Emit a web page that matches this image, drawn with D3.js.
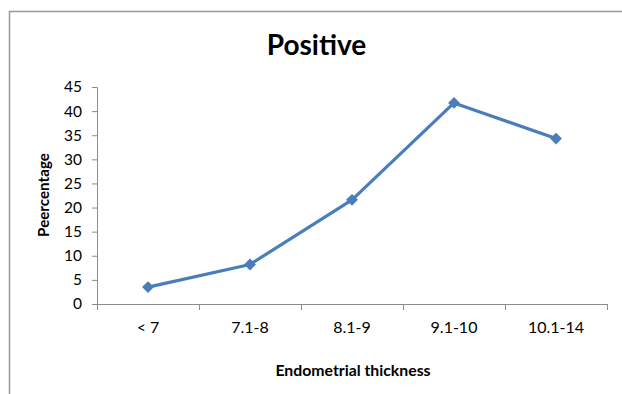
<!DOCTYPE html>
<html><head><meta charset="utf-8">
<script src="https://cdn.jsdelivr.net/npm/d3@7"></script>
<style>body{margin:0;background:#fff}svg{display:block}</style>
</head><body>
<script>
const categories = ["< 7", "7.1-8", "8.1-9", "9.1-10", "10.1-14"];
const values = [3.5, 8.2, 21.6, 41.7, 34.3];
const yTicks = [0, 5, 10, 15, 20, 25, 30, 35, 40, 45];
const titleText = "Positive";
const xTitle = "Endometrial thickness";
const yTitle = "Peercentage";

const W = 622, H = 394;
const svg = d3.select("body").append("svg").attr("width", W).attr("height", H);
const font = "Lato, 'Open Sans', sans-serif";

// outer chart border (cropped at right/bottom)
svg.append("path").attr("d", `M9.5,${H} V11.5 H${W}`).attr("fill", "none")
  .attr("stroke", "#999").attr("stroke-width", 1.5);

const L = 97, R = 607, T = 87, B = 304;
const x = d3.scaleBand().domain(categories).range([L, R]).padding(0);
const y = d3.scaleLinear().domain([0, 45]).range([B, T]);

// y axis
const yAx = svg.append("g").attr("transform", `translate(${L},0)`)
  .call(d3.axisLeft(y).tickValues(yTicks).tickSize(5).tickPadding(10));
yAx.select(".domain").attr("stroke", "#8c8c8c").attr("d", `M-5,${T}.5H0.5V${B}.5`);
yAx.selectAll(".tick line").attr("stroke", "#8c8c8c");
yAx.selectAll("text").attr("font-family", font).attr("font-size", 15.5).attr("fill", "#000");

// x axis
const xAx = svg.append("g").attr("transform", `translate(0,${B})`)
  .call(d3.axisBottom(x).tickSize(0));
xAx.select(".domain").attr("stroke", "#8c8c8c").attr("d", `M${L}.5,0.5H${R}.5`);
xAx.selectAll("text").attr("font-family", font).attr("font-size", 16).attr("fill", "#000")
  .attr("dy", null).attr("y", 29);
const bounds = categories.map(c => x(c)).concat([R]);
xAx.selectAll(".bt").data(bounds).enter().append("line")
  .attr("x1", d => Math.round(d) + 0.5).attr("x2", d => Math.round(d) + 0.5)
  .attr("y1", 0).attr("y2", 6).attr("stroke", "#8c8c8c");

// line
const cx = c => x(c) + x.bandwidth() / 2;
svg.append("path").datum(values)
  .attr("d", d3.line().x((d, i) => cx(categories[i])).y(d => y(d)))
  .attr("fill", "none").attr("stroke", "#4a7ebb").attr("stroke-width", 3.2)
  .attr("stroke-linejoin", "round");

svg.selectAll(".mk").data(values).enter().append("path")
  .attr("transform", (d, i) => `translate(${cx(categories[i])},${y(d)})`)
  .attr("d", d3.symbol().type(d3.symbolDiamond2).size(90))
  .attr("fill", "#4a7ebb");

// titles
svg.append("text").attr("x", 316.5).attr("y", 55).attr("text-anchor", "middle")
  .attr("font-family", font).attr("font-weight", "bold").attr("font-size", 28)
  .text(titleText);
svg.append("text").attr("x", 353).attr("y", 376).attr("text-anchor", "middle")
  .attr("font-family", font).attr("font-weight", "bold").attr("font-size", 15.8)
  .text(xTitle);
svg.append("text").attr("transform", "translate(49,195) rotate(-90)").attr("text-anchor", "middle")
  .attr("font-family", font).attr("font-weight", "bold").attr("font-size", 15.2)
  .text(yTitle);
</script>
</body></html>
